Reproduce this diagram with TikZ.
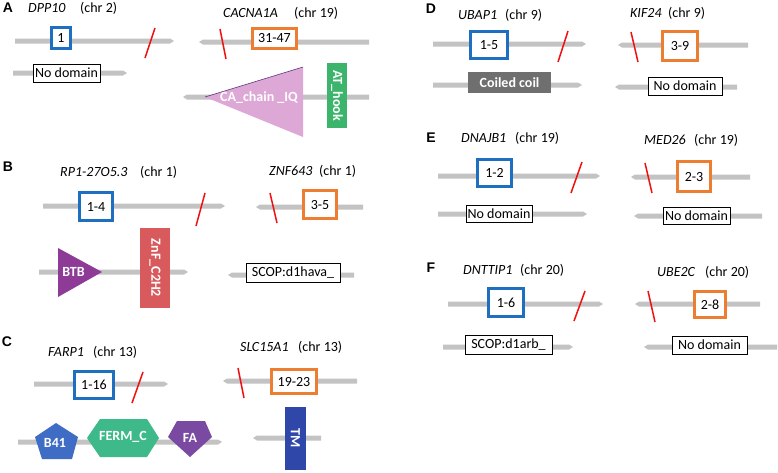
\documentclass[tikz,border=0pt]{standalone}
\usepackage{fontspec}
\setmainfont{Carlito}
\newfontfamily\letfont{Liberation Sans}
\definecolor{barcol}{HTML}{C3C3C3}
\definecolor{bbox}{HTML}{1F6FC0}
\definecolor{obox}{HTML}{ED7D31}
\definecolor{slashred}{HTML}{F01010}
\definecolor{capink}{HTML}{DDA8D6}
\definecolor{capurp}{HTML}{5A3A80}
\definecolor{atgreen}{HTML}{3CB46B}
\definecolor{btbpurp}{HTML}{8D3B96}
\definecolor{znfred}{HTML}{D95A5C}
\definecolor{bfblue}{HTML}{3F6CC4}
\definecolor{fermgreen}{HTML}{3DB98A}
\definecolor{fapurp}{HTML}{7A4AA3}
\definecolor{tmblue}{HTML}{2E47A8}
\definecolor{ccgray}{HTML}{6F6F6F}
\newcommand{\gbarR}[3]{\fill[barcol] (#1,#3-2.5) -- (#2-4,#3-2.5) -- (#2,#3) -- (#2-4,#3+2.5) -- (#1,#3+2.5) -- cycle;}
\newcommand{\gbarL}[3]{\fill[barcol] (#2,#3-2.5) -- (#1+4,#3-2.5) -- (#1,#3) -- (#1+4,#3+2.5) -- (#2,#3+2.5) -- cycle;}
\tikzset{
  txt/.style={inner sep=0pt, font=\fontsize{14}{16}\selectfont},
  gene/.style={txt, anchor=west, font=\fontsize{14}{16}\selectfont\itshape},
  chr/.style={txt, anchor=west},
  plet/.style={inner sep=0pt, font=\fontsize{14}{16}\selectfont\letfont\bfseries},
  bluebox/.style={txt, draw=bbox, line width=2.8pt, fill=white},
  orbox/.style={txt, draw=obox, line width=2.8pt, fill=white},
  nodom/.style={txt, draw=black, line width=0.9pt, fill=white, minimum height=17pt},
  dlab/.style={inner sep=0pt, text=white, font=\fontsize{14}{16}\selectfont\bfseries},
  rectdom/.style={dlab, minimum width=#1},
  slash/.style={draw=slashred, line width=1.5pt}
}
\begin{document}
\begin{tikzpicture}[x=1pt,y=-1pt]
\useasboundingbox[fill=white] (0,0) rectangle (778,472);
% ---------- bars ----------
\gbarR{15}{174}{41}  \gbarR{13}{127}{73}
\gbarL{199}{369}{42} \gbarL{183}{369}{97}
\gbarR{43}{225}{206} \gbarR{39}{188}{272}
\gbarL{256}{363}{207} \gbarL{228}{354}{275}
\gbarR{34}{168}{384} \gbarR{18}{222}{442}
\gbarL{223}{357}{381} \gbarL{253}{321}{438}
\gbarR{433}{586}{44} \gbarR{433}{582}{85}
\gbarL{618}{748}{45} \gbarL{615}{737}{87}
\gbarR{438}{600}{176} \gbarR{438}{587}{214}
\gbarL{631}{750}{177} \gbarL{634}{762}{216}
\gbarR{448}{603}{304} \gbarR{443}{573}{347}
\gbarL{635}{760}{304} \gbarL{644}{777}{347}
% ---------- panel letters ----------
\node[plet] (lA) at (8,8) {A};
\node[plet] (lB) at (8,167) {B};
\node[plet] (lC) at (7,342) {C};
\node[plet] (lD) at (431,9) {D};
\node[plet] (lE) at (431,138) {E};
\node[plet] (lF) at (431,268) {F};
% ---------- gene labels ----------
\node[gene] (gA1) at (28,8) {DPP10};      \node[chr] (cA1) at (80,8) {(chr 2)};
\node[gene] (gA2) at (223,13) {CACNA1A};  \node[chr] (cA2) at (294,13) {(chr 19)};
\node[gene] (gB1) at (60,172) {RP1-27O5.3}; \node[chr] (cB1) at (140,172) {(chr 1)};
\node[gene] (gB2) at (269,171) {ZNF643};  \node[chr] (cB2) at (319,171) {(chr 1)};
\node[gene] (gC1) at (48,352) {FARP1};    \node[chr] (cC1) at (93,352) {(chr 13)};
\node[gene] (gC2) at (240,347) {SLC15A1}; \node[chr] (cC2) at (298,347) {(chr 13)};
\node[gene] (gD1) at (458,15) {UBAP1};    \node[chr] (cD1) at (505,15) {(chr 9)};
\node[gene] (gD2) at (630,13) {KIF24};    \node[chr] (cD2) at (668,13) {(chr 9)};
\node[gene] (gE1) at (461,138) {DNAJB1};  \node[chr] (cE1) at (515,138) {(chr 19)};
\node[gene] (gE2) at (644,140) {MED26};   \node[chr] (cE2) at (694,140) {(chr 19)};
\node[gene] (gF1) at (463,270) {DNTTIP1}; \node[chr] (cF1) at (520,270) {(chr 20)};
\node[gene] (gF2) at (657,272) {UBE2C};   \node[chr] (cF2) at (705,272) {(chr 20)};
% ---------- domains ----------
\fill[capink] (205,97) -- (303,67) -- (303,137) -- cycle;
\draw[capurp, line width=0.6pt] (205,97) -- (303,67);
\node[dlab] (dCA) at (259,98) {CA\_chain \_IQ};
\node[rectdom=65pt, minimum height=20pt, fill=atgreen, rotate=-90] (dAT) at (337,95.5) {AT\_hook};
\fill[btbpurp] (58,248) -- (102,272) -- (58,297) -- cycle;
\node[dlab] (dBTB) at (73.5,272) {BTB};
\node[rectdom=80pt, minimum height=30pt, fill=znfred, rotate=-90] (dZnF) at (155,268) {ZnF\_C2H2};
\fill[bfblue] (56,423) -- (78,437) -- (72,459) -- (42,459) -- (35,437) -- cycle;
\node[dlab] (dB41) at (55,443) {B41};
\fill[fermgreen] (87,438) -- (100,419) -- (147,419) -- (159,438) -- (147,457) -- (100,457) -- cycle;
\node[dlab] (dFERM) at (123,437) {FERM\_C};
\fill[fapurp] (177,421) -- (205,421) -- (212,437) -- (190,457) -- (168,437) -- cycle;
\node[dlab] (dFA) at (190,438) {FA};
\node[rectdom=63pt, minimum height=21pt, fill=tmblue, rotate=-90] (dTM) at (295.5,438.5) {TM};
\node[rectdom=83pt, minimum height=21pt, fill=ccgray] (dCC) at (509.5,82.5) {Coiled coil};
% ---------- no domain / SCOP ----------
\node[nodom, minimum width=67pt, minimum height=18pt] (nA) at (66.5,73) {No domain};
\node[nodom, minimum width=74pt, minimum height=18pt] (nD) at (685,86) {No domain};
\node[nodom, minimum width=66pt] (nE1) at (499,213.5) {No domain};
\node[nodom, minimum width=67pt] (nE2) at (696.5,215.5) {No domain};
\node[nodom, minimum width=75pt, minimum height=18pt] (nF2) at (709.5,345) {No domain};
\node[nodom, minimum width=94pt, minimum height=19pt] (nB2) at (293,272.5) {SCOP:d1hava\_};
\node[nodom, minimum width=87pt, minimum height=19pt] (nF1) at (508.5,344.5) {SCOP:d1arb\_};
% ---------- exon boxes ----------
\node[bluebox, minimum width=19pt, minimum height=21pt] (bA1) at (61,38) {1};
\node[orbox, minimum width=44pt, minimum height=20pt] (bA2) at (274.5,38.5) {31-47};
\node[bluebox, minimum width=33pt, minimum height=28pt] (bB1) at (96,206.5) {1-4};
\node[orbox, minimum width=33pt, minimum height=28pt] (bB2) at (320,204.5) {3-5};
\node[bluebox, minimum width=39pt, minimum height=27pt] (bC1) at (94,385) {1-16};
\node[orbox, minimum width=45pt, minimum height=24pt] (bC2) at (294,381.5) {19-23};
\node[bluebox, minimum width=37pt, minimum height=27pt] (bD1) at (489,45) {1-5};
\node[orbox, minimum width=35pt, minimum height=29pt] (bD2) at (680,46) {3-9};
\node[bluebox, minimum width=34pt, minimum height=27pt] (bE1) at (494.5,173) {1-2};
\node[orbox, minimum width=33pt, minimum height=30pt] (bE2) at (694,176.5) {2-3};
\node[bluebox, minimum width=35pt, minimum height=28pt] (bF1) at (506,302.5) {1-6};
\node[orbox, minimum width=31pt, minimum height=26pt] (bF2) at (710,304.5) {2-8};
% ---------- breakpoints ----------
\draw[slash] (145,58) -- (155,28);
\draw[slash] (220,29) -- (226,59);
\draw[slash] (196,226) -- (205,193);
\draw[slash] (270,193) -- (277,223);
\draw[slash] (132,403) -- (143,372);
\draw[slash] (238,368) -- (244,398);
\draw[slash] (558,62) -- (568,31);
\draw[slash] (631,32) -- (638,62);
\draw[slash] (571,193) -- (582,162);
\draw[slash] (645,163) -- (652,193);
\draw[slash] (574,321) -- (585,291);
\draw[slash] (648,291) -- (655,322);
\end{tikzpicture}
\end{document}
